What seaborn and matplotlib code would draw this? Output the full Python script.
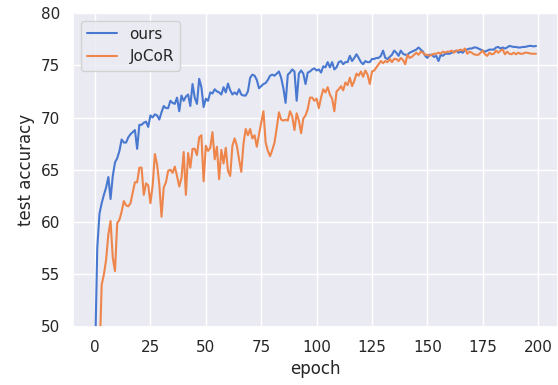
import numpy as np
import pandas as pd
import matplotlib
matplotlib.use("Agg")
import matplotlib.pyplot as plt
import seaborn as sns

# test accuracy per epoch (200 epochs)
ours = [
    47.0, 57.5, 60.8, 61.8, 62.6, 63.3, 64.3, 62.2, 64.4, 65.7,
    66.1, 66.8, 67.9, 67.6, 67.6, 68.1, 68.4, 68.6, 68.8, 67.0,
    69.3, 69.3, 69.5, 69.6, 69.1, 70.2, 70.0, 70.3, 70.2, 69.8,
    70.5, 71.1, 70.9, 70.9, 71.6, 71.4, 71.3, 71.9, 70.6, 72.1,
    71.6, 72.0, 72.2, 71.1, 73.2, 71.9, 71.3, 73.7, 72.9, 71.0,
    71.8, 71.6, 72.4, 72.3, 72.7, 72.5, 72.4, 72.2, 72.9, 72.4,
    73.25, 72.6, 72.2, 72.4, 72.2, 72.7, 72.2, 72.1, 72.1, 72.5,
    73.8, 74.1, 74.0, 73.6, 72.8, 73.0, 73.2, 73.3, 73.6, 74.0,
    74.1, 74.0, 74.2, 74.4, 73.8, 72.8, 71.4, 74.1, 74.3, 74.6,
    74.4, 71.6, 74.2, 74.5, 74.2, 73.2, 74.3, 74.4, 74.6, 74.7,
    74.5, 74.6, 74.3, 74.9, 74.8, 75.3, 74.8, 75.3, 74.6, 74.8,
    75.3, 75.4, 75.1, 75.3, 75.3, 75.9, 75.4, 75.7, 76.05, 75.7,
    75.3, 75.1, 75.4, 75.3, 75.3, 75.6, 75.6, 75.7, 75.7, 75.9,
    76.4, 75.7, 75.6, 75.8, 76.0, 76.4, 76.2, 75.9, 76.4, 76.1,
    76.0, 76.0, 76.2, 76.3, 76.4, 76.5, 76.7, 76.5, 76.3, 75.9,
    75.7, 76.0, 76.0, 75.8, 75.9, 75.4, 76.0, 75.9, 76.1, 76.1,
    76.1, 76.2, 76.3, 76.4, 76.2, 76.3, 76.2, 76.5, 76.5, 76.6,
    76.6, 76.7, 76.7, 76.6, 76.5, 76.4, 76.3, 76.4, 76.5, 76.5,
    76.5, 76.7, 76.75, 76.6, 76.7, 76.6, 76.7, 76.85, 76.8, 76.75,
    76.75, 76.7, 76.7, 76.75, 76.75, 76.8, 76.85, 76.85, 76.8, 76.85,
]

jocor = [
    40.0, 44.0, 47.0, 54.0, 55.0, 56.4, 58.8, 60.1, 56.6, 55.3,
    59.9, 60.2, 61.0, 62.0, 61.6, 61.5, 61.8, 62.8, 63.8, 63.8,
    65.2, 65.2, 62.6, 63.7, 63.5, 61.8, 63.5, 66.5, 65.5, 63.6,
    60.5, 63.3, 63.8, 64.9, 65.0, 64.7, 65.3, 64.4, 63.4, 64.2,
    66.7, 62.6, 66.6, 65.2, 67.0, 67.0, 66.4, 68.1, 68.3, 63.9,
    67.3, 66.8, 67.1, 68.6, 66.0, 67.2, 64.1, 66.9, 65.6, 67.1,
    64.9, 64.4, 67.3, 68.0, 67.3, 66.0, 64.8, 67.5, 68.9, 68.3,
    68.9, 68.0, 68.3, 67.2, 68.4, 69.5, 70.6, 67.6, 66.8, 66.3,
    66.9, 67.6, 69.0, 70.5, 69.8, 69.7, 69.8, 69.7, 70.6, 70.1,
    68.8, 70.4, 69.7, 68.5, 69.9, 70.2, 70.8, 71.9, 71.9, 71.6,
    71.8, 70.9, 71.9, 72.7, 72.4, 72.9, 72.2, 71.8, 70.6, 72.5,
    72.7, 73.0, 72.6, 73.35, 73.1, 73.8, 73.0, 73.5, 74.2, 74.0,
    74.4, 73.9, 74.5, 74.1, 73.2, 74.4, 74.5, 74.8, 75.1, 75.4,
    75.2, 75.4, 75.3, 75.6, 75.3, 75.6, 75.6, 75.4, 75.7, 75.5,
    75.1, 76.0, 75.7, 75.8, 76.0, 76.2, 76.0, 76.3, 76.2, 76.0,
    76.0, 75.9, 76.0, 76.1, 76.1, 76.2, 76.1, 76.3, 76.2, 76.3,
    76.3, 76.4, 76.2, 76.4, 76.4, 76.5, 76.4, 76.6, 76.1, 76.3,
    76.2, 76.05, 76.0, 76.0, 76.2, 76.4, 76.05, 75.9, 76.2, 76.05,
    76.1, 76.4, 76.2, 76.4, 76.5, 76.05, 76.3, 76.1, 76.05, 76.2,
    76.05, 76.2, 76.1, 76.1, 76.2, 76.2, 76.15, 76.1, 76.1, 76.1,
]

epochs = np.arange(len(ours))
methods = ["ours", "JoCoR"]

df = pd.DataFrame({
    "epoch": np.concatenate([epochs, epochs]),
    "test accuracy": np.concatenate([ours, jocor]),
    "method": np.repeat(methods, len(epochs)),
})

sns.set_theme(style="darkgrid", context="notebook", palette="muted")

fig = plt.figure(figsize=(5.58, 3.85), dpi=100)
ax = fig.add_axes([73 / 558, (385 - 326.5) / 385, (558 - 73) / 558, (326.5 - 13) / 385])

sns.lineplot(data=df, x="epoch", y="test accuracy", hue="method",
             hue_order=methods, ax=ax)

ax.set_ylim(50, 80)
ax.set_xticks(np.arange(0, 201, 25))
ax.legend(loc="upper left", title=None)

fig.savefig("out.png", dpi=100)
